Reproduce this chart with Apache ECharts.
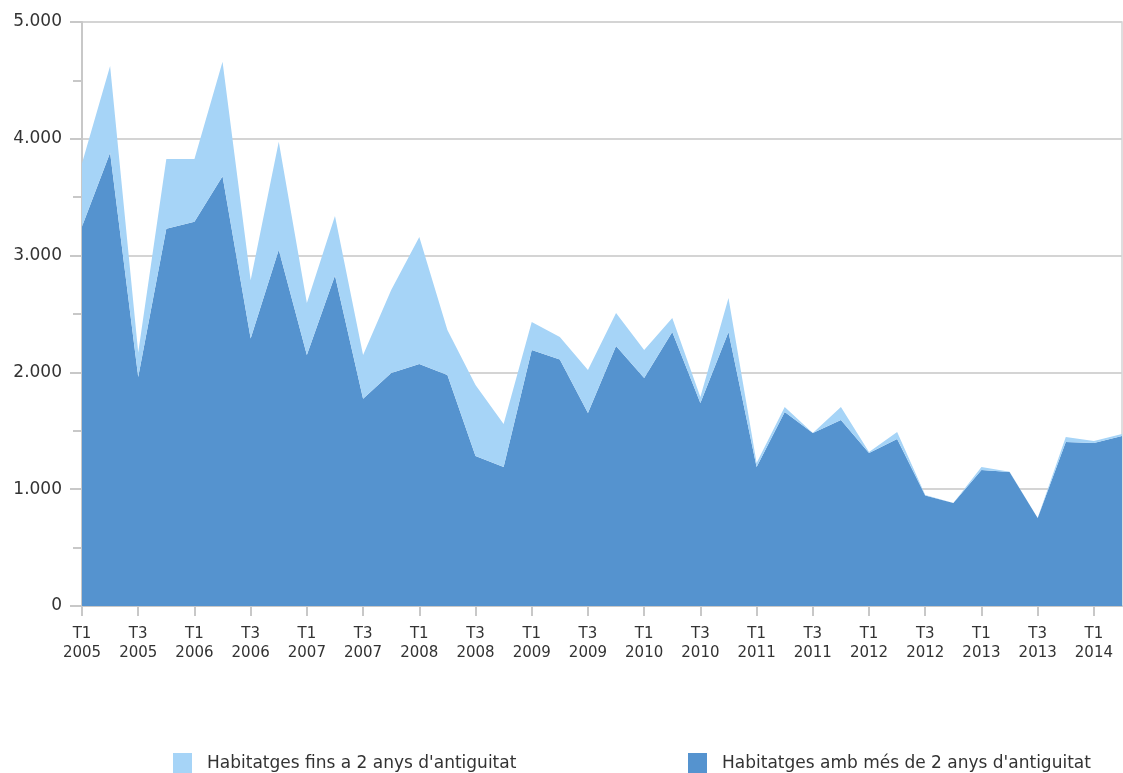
<!DOCTYPE html>
<html>
<head>
<meta charset="utf-8">
<script src="https://cdn.jsdelivr.net/npm/echarts@6/dist/echarts.min.js"></script>
<style>
html,body{margin:0;padding:0;background:#fff;}
#chart{width:1123px;height:773px;}
</style>
</head>
<body>
<div id="chart"></div>
<script>
const quarters = [
  'T1\n2005','T2\n2005','T3\n2005','T4\n2005',
  'T1\n2006','T2\n2006','T3\n2006','T4\n2006',
  'T1\n2007','T2\n2007','T3\n2007','T4\n2007',
  'T1\n2008','T2\n2008','T3\n2008','T4\n2008',
  'T1\n2009','T2\n2009','T3\n2009','T4\n2009',
  'T1\n2010','T2\n2010','T3\n2010','T4\n2010',
  'T1\n2011','T2\n2011','T3\n2011','T4\n2011',
  'T1\n2012','T2\n2012','T3\n2012','T4\n2012',
  'T1\n2013','T2\n2013','T3\n2013','T4\n2013',
  'T1\n2014','T2\n2014'
];
// Dwellings older than 2 years (bottom layer)
const older = [
  3250, 3880, 1960, 3230, 3290, 3680, 2290, 3050,
  2150, 2830, 1775, 1995, 2072, 1978, 1284, 1190,
  2192, 2110, 1652, 2226, 1952, 2346, 1738, 2346,
  1190, 1661, 1481, 1592, 1310, 1430, 945, 882,
  1164, 1147, 753, 1404, 1396, 1455
];
// Dwellings up to 2 years old (stacked on top)
const newer = [
  540, 743, 210, 597, 537, 980, 500, 925,
  444, 509, 374, 710, 1087, 385, 608, 368,
  240, 193, 368, 282, 240, 120, 51, 291,
  34, 43, 0, 112, 8, 60, 5, 0,
  26, 3, 0, 43, 17, 18
];
const yTicks = [0, 1000, 2000, 3000, 4000, 5000];
const nameNew = "Habitatges fins a 2 anys d'antiguitat";
const nameOld = "Habitatges amb més de 2 anys d'antiguitat";

const chart = echarts.init(document.getElementById('chart'));
const fontFam = 'DejaVu Sans';
chart.setOption({
  animation: false,
  textStyle: {fontFamily: fontFam},
  grid: {left: 82, right: 1, top: 22, bottom: 167, show: true, borderColor: '#d4d4d4', borderWidth: 1.5, backgroundColor: 'transparent'},
  legend: [
    {data: [nameNew], left: 168, top: 748, itemWidth: 19, itemHeight: 21, icon: 'rect', itemGap: 10,
     textStyle: {fontSize: 17, color: '#333', fontFamily: fontFam, padding: [0, 0, 0, 10]}},
    {data: [nameOld], left: 683, top: 748, itemWidth: 19, itemHeight: 21, icon: 'rect', itemGap: 10,
     textStyle: {fontSize: 17, color: '#333', fontFamily: fontFam, padding: [0, 0, 0, 10]}}
  ],
  xAxis: {
    type: 'category',
    data: quarters,
    boundaryGap: false,
    axisLine: {lineStyle: {color: '#c8c8c8', width: 2}},
    axisTick: {interval: 1, length: 10, lineStyle: {color: '#c8c8c8', width: 2}},
    axisLabel: {interval: 1, fontSize: 15, color: '#333', lineHeight: 19, margin: 19, fontFamily: fontFam}
  },
  yAxis: {
    type: 'value',
    min: yTicks[0],
    max: yTicks[yTicks.length - 1],
    interval: 1000,
    axisLine: {show: true, lineStyle: {color: '#c8c8c8', width: 2}},
    axisTick: {show: true, length: 12, lineStyle: {color: '#c8c8c8', width: 2}},
    minorTick: {show: true, splitNumber: 2, length: 9, lineStyle: {color: '#c8c8c8', width: 2}},
    splitLine: {lineStyle: {color: '#d4d4d4', width: 2}},
    axisLabel: {fontSize: 17, color: '#333', margin: 20, fontFamily: fontFam,
      formatter: v => v === 0 ? '0' : String(v).replace(/\B(?=(\d{3})+(?!\d))/g, '.')}
  },
  series: [
    {name: nameOld, type: 'line', stack: 'total', data: older, symbol: 'none',
     lineStyle: {width: 0}, areaStyle: {color: '#5593cf', opacity: 1}, itemStyle: {color: '#5593cf'}},
    {name: nameNew, type: 'line', stack: 'total', data: newer, symbol: 'none',
     lineStyle: {width: 0}, areaStyle: {color: '#a6d4f7', opacity: 1}, itemStyle: {color: '#a6d4f7'}}
  ]
});
</script>
</body>
</html>
